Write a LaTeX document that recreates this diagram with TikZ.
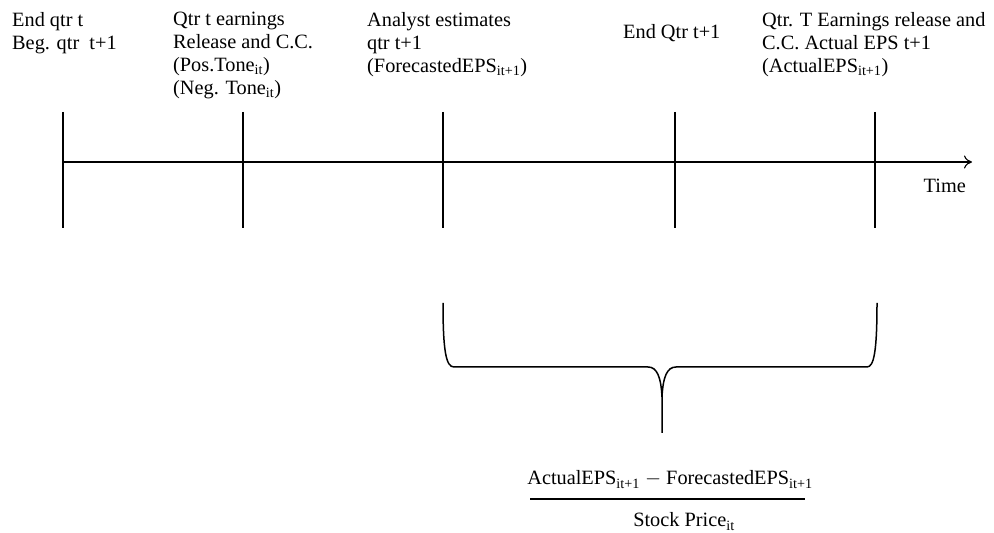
\documentclass[tikz,border=0pt]{standalone}
\usepackage{fontspec}
\setmainfont{Liberation Serif}
\usepackage{tikz}
\usetikzlibrary{arrows.meta,positioning,calc}

\tikzset{
  lbl/.style={anchor=north west, inner sep=0pt, align=left,
    font=\fontsize{20.3}{23}\selectfont},
  tick/.style={line width=1.1pt},
}

\begin{document}
\begin{tikzpicture}[x=1pt,y=1pt]
\useasboundingbox (0,0) rectangle (994,533);

% Time axis
\coordinate (ax0) at (63,371);
\coordinate (ax1) at (972,371);
\draw[line width=1.1pt, -{To[length=8pt,width=13pt]}] (ax0) -- (ax1);
\node[anchor=base east, inner sep=0pt, font=\fontsize{20.3}{23}\selectfont] (time) at (966,340) {Time};

% Ticks
\foreach \x in {63,243,443,675,875}{
  \draw[tick] (\x,421) -- (\x,305);
}

% Event labels
\node[lbl] (endq) at (12,521) {End qtr t\\Beg. qtr\ \ t+1};
\node[lbl] (earn) at (173,521) {Qtr t earnings\\Release and C.C.\\(Pos.Tone\textsubscript{it})\\(Neg. Tone\textsubscript{it})};
\node[lbl] (anal) at (367,521) {Analyst estimates\\qtr t+1\\(ForecastedEPS\textsubscript{it+1})};
\node[lbl] (endq1) at (623,509) {End Qtr t+1};
\node[lbl] (actual) at (762,521) {Qtr. T Earnings release and\\C.C. Actual EPS t+1\\(ActualEPS\textsubscript{it+1})};

% Brace
\draw[line width=1.5pt] (443,230) .. controls (443,182) and (446,166) .. (454,166)
  -- (648,166) .. controls (657,166) and (661,156) .. (662,136) -- (662,100);
\draw[line width=1.5pt] (662,136) .. controls (663,156) and (667,166) .. (676,166)
  -- (867,166) .. controls (874,166) and (877,182) .. (877,230);

% Surprise ratio
\node[anchor=base, inner sep=0pt, font=\fontsize{20.3}{23}\selectfont] (num) at (670,48)
  {ActualEPS\textsubscript{it+1} $-$ ForecastedEPS\textsubscript{it+1}};
\node[anchor=base, inner sep=0pt, font=\fontsize{20.3}{23}\selectfont] (den) at (684,6)
  {Stock Price\textsubscript{it}};
\draw[line width=1.2pt] (530,34) -- (805,34);

\end{tikzpicture}
\end{document}
